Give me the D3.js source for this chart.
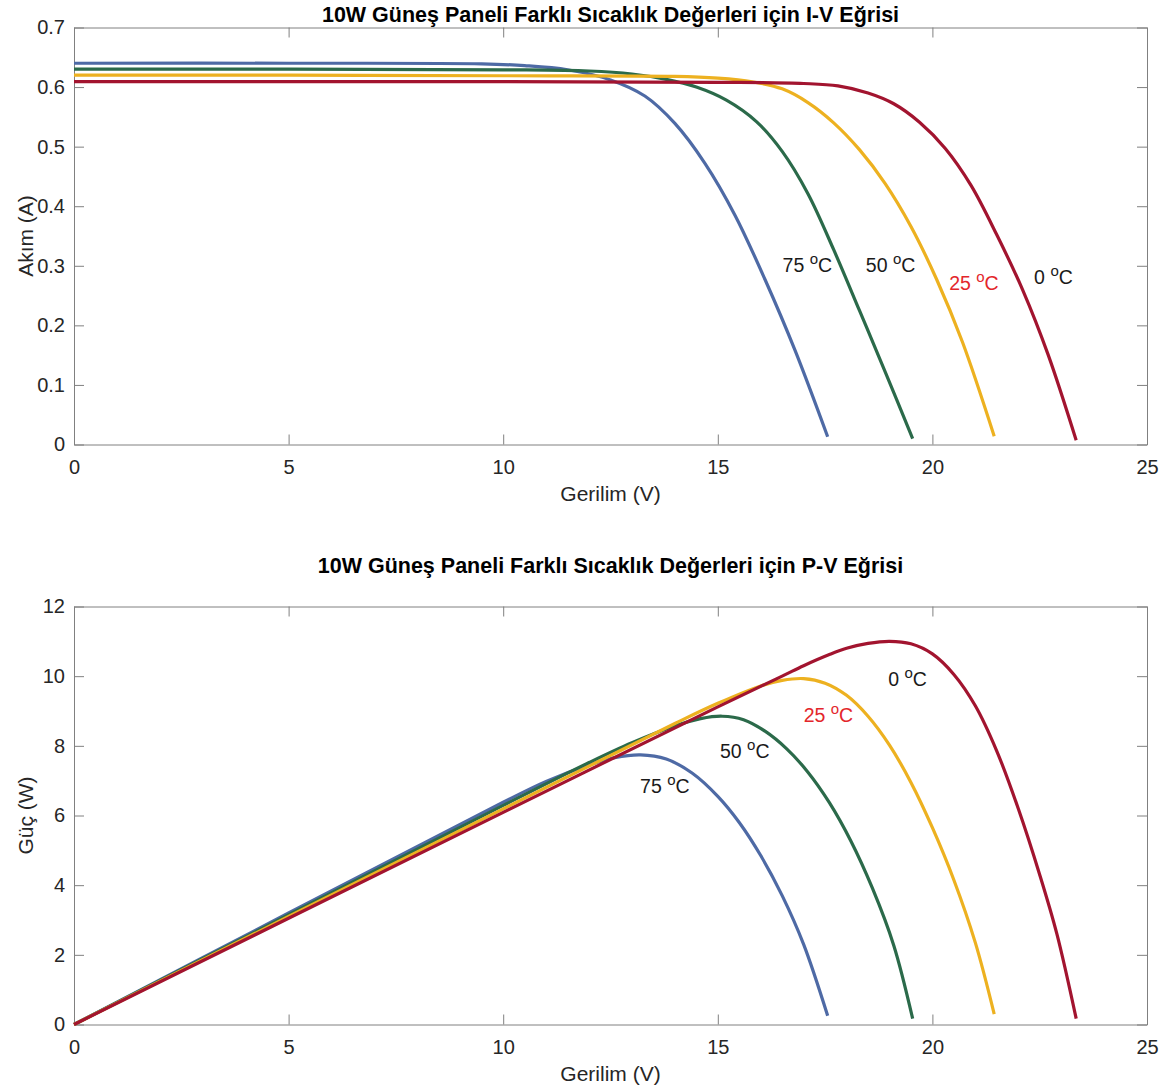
<!DOCTYPE html>
<html>
<head>
<meta charset="utf-8">
<script src="https://cdn.jsdelivr.net/npm/d3@7"></script>
<style>
  body { margin: 0; background: #fff; }
  text { font-family: "Liberation Sans", Arial, sans-serif; }
</style>
</head>
<body>
<svg id="chart"></svg>
<script>
// series order: 75, 50, 25, 0 degC
const temps = ["75", "50", "25", "0"];
const colors = ["#4e6aa5", "#2b6a4a", "#edb120", "#a2142f"];

// I-V curves (voltage V, current A)
const ivV75 = [0, 5, 9.5, 10.5, 11.5, 12.5, 13.3, 14.0, 14.7, 15.4, 16.1, 16.8, 17.56];
const ivI75 = [0.640, 0.640, 0.639, 0.636, 0.629, 0.612, 0.585, 0.539, 0.472, 0.385, 0.277, 0.158, 0.013];
const ivV50 = [0, 5, 10, 12, 13, 13.8, 14.5, 15.2, 15.9, 16.5, 17.1, 17.7, 18.3, 18.9, 19.54];
const ivI50 = [0.630, 0.630, 0.629, 0.627, 0.622, 0.613, 0.600, 0.578, 0.542, 0.492, 0.421, 0.327, 0.225, 0.122, 0.010];
const ivV25 = [0, 5, 10, 14, 15, 15.8, 16.5, 17.1, 17.7, 18.3, 18.9, 19.5, 20.1, 20.7, 21.44];
const ivI25 = [0.620, 0.620, 0.619, 0.618, 0.615, 0.609, 0.597, 0.574, 0.540, 0.495, 0.438, 0.366, 0.277, 0.172, 0.014];
const ivV0 = [0, 5, 10, 15, 17, 17.8, 18.5, 19.1, 19.7, 20.3, 20.9, 21.5, 22.1, 22.7, 23.35];
const ivI0 = [0.609, 0.609, 0.609, 0.608, 0.606, 0.602, 0.590, 0.572, 0.541, 0.497, 0.435, 0.352, 0.260, 0.150, 0.007];

// P-V curves (voltage V, power W)
const pvV75 = [0, 5, 10, 11, 12, 12.6, 13.2, 13.8, 14.4, 15.0, 15.5, 16.0, 16.5, 17.0, 17.56];
const pvP75 = [0, 3.2, 6.38, 6.98, 7.45, 7.66, 7.74, 7.62, 7.22, 6.55, 5.80, 4.85, 3.70, 2.30, 0.25];
const pvV50 = [0, 5, 10, 12, 13, 14, 14.6, 15.1, 15.6, 16.1, 16.6, 17.1, 17.6, 18.1, 18.6, 19.1, 19.54];
const pvP50 = [0, 3.15, 6.29, 7.52, 8.09, 8.57, 8.78, 8.85, 8.75, 8.42, 7.92, 7.245, 6.37, 5.27, 3.92, 2.27, 0.17];
const pvV25 = [0, 5, 10, 14, 15, 16, 16.5, 17.0, 17.5, 18.0, 18.5, 19.0, 19.5, 20.0, 20.5, 21.0, 21.44];
const pvP25 = [0, 3.1, 6.19, 8.64, 9.22, 9.72, 9.88, 9.93, 9.80, 9.45, 8.85, 8.02, 6.95, 5.65, 4.15, 2.35, 0.30];
const pvV0 = [0, 5, 10, 15, 16.5, 17.0, 17.6, 18.0, 18.5, 19.0, 19.5, 20.0, 20.5, 21.0, 21.5, 22.0, 22.5, 22.9, 23.35];
const pvP0 = [0, 3.05, 6.09, 9.12, 10.0, 10.3, 10.62, 10.80, 10.94, 11.0, 10.93, 10.64, 10.05, 9.15, 7.85, 6.2, 4.3, 2.6, 0.17];

// label anchors (voltage, value) for the temperature notes
const ivLabelV = [16.51, 18.45, 20.39, 22.37];
const ivLabelI = [0.290, 0.290, 0.259, 0.270];
const pvLabelV = [13.19, 15.05, 17.0, 18.97];
const pvLabelP = [6.65, 7.66, 8.69, 9.73];

const xTicks = [0, 5, 10, 15, 20, 25];
const ivTicks = [0, 0.1, 0.2, 0.3, 0.4, 0.5, 0.6, 0.7];
const pvTicks = [0, 2, 4, 6, 8, 10, 12];

const zip = (xs, ys) => xs.map((x, i) => [x, ys[i]]);

const svg = d3.select("#chart").attr("width", 1168).attr("height", 1090);

function panel(opts) {
    const left = 74, right = 1147;
    const g = svg.append("g");

    const x = d3.scaleLinear().domain([0, 25]).range([left, right]);
    const y = d3.scaleLinear().domain(opts.yDomain).range([opts.bottom, opts.top]);

    // axes, MATLAB style box with inward ticks
    const axisStyle = sel => {
        sel.select(".domain").attr("stroke", "#808080");
        sel.selectAll(".tick line").attr("stroke", "#808080");
        sel.selectAll(".tick text").attr("fill", "#262626")
            .style("font-size", "20px");
    };
    g.append("g").attr("transform", `translate(0,${opts.bottom})`)
        .call(d3.axisBottom(x).tickValues(xTicks).tickSizeInner(-10).tickSizeOuter(0).tickPadding(15))
        .call(axisStyle);
    g.append("g").attr("transform", `translate(0,${opts.top})`)
        .call(d3.axisTop(x).tickValues(xTicks).tickSizeInner(-10).tickSizeOuter(0).tickFormat(""))
        .call(axisStyle);
    g.append("g").attr("transform", `translate(${left},0)`)
        .call(d3.axisLeft(y).tickValues(opts.yTicks).tickSizeInner(-10).tickSizeOuter(0).tickPadding(9).tickFormat(d => String(d)))
        .call(axisStyle);
    g.append("g").attr("transform", `translate(${right},0)`)
        .call(d3.axisRight(y).tickValues(opts.yTicks).tickSizeInner(-10).tickSizeOuter(0).tickFormat(""))
        .call(axisStyle);

    const line = d3.line()
        .x(d => x(d[0]))
        .y(d => y(d[1]))
        .curve(d3.curveCatmullRom.alpha(0.5));

    g.selectAll("path.curve")
        .data(opts.series)
        .enter().append("path")
        .attr("class", "curve")
        .attr("d", d => line(d))
        .attr("fill", "none")
        .attr("stroke", (d, i) => colors[i])
        .attr("stroke-width", 3.2);

    // temperature notes
    temps.forEach((t, i) => {
        const txt = g.append("text")
            .attr("x", x(opts.labelX[i]))
            .attr("y", y(opts.labelY[i]))
            .attr("fill", t === "25" ? "#e3262b" : "#1a1a1a")
            .style("font-size", "19.5px");
        txt.append("tspan").text(t + " ");
        txt.append("tspan").attr("dy", -8).style("font-size", "15px").text("o");
        txt.append("tspan").attr("dy", 8).text("C");
    });

    // title
    g.append("text")
        .attr("x", (left + right) / 2)
        .attr("y", opts.titleY)
        .attr("text-anchor", "middle")
        .attr("font-weight", "bold")
        .style("font-size", "21.5px")
        .attr("fill", "#000")
        .text(opts.title);

    // x label
    g.append("text")
        .attr("x", (left + right) / 2)
        .attr("y", opts.bottom + 56.5)
        .attr("text-anchor", "middle")
        .attr("fill", "#262626")
        .style("font-size", "21px")
        .text("Gerilim (V)");

    // y label
    g.append("text")
        .attr("transform", `translate(33,${(opts.top + opts.bottom) / 2}) rotate(-90)`)
        .attr("text-anchor", "middle")
        .attr("fill", "#262626")
        .style("font-size", "21px")
        .text(opts.yLabel);
}

panel({
    top: 27.5, bottom: 444.5, titleY: 21.5,
    yDomain: [0, 0.7], yTicks: ivTicks,
    series: [zip(ivV75, ivI75), zip(ivV50, ivI50), zip(ivV25, ivI25), zip(ivV0, ivI0)],
    labelX: ivLabelV, labelY: ivLabelI,
    title: "10W Güneş Paneli Farklı Sıcaklık Değerleri için I-V Eğrisi",
    yLabel: "Akım (A)"
});

panel({
    top: 606.5, bottom: 1024.5, titleY: 573,
    yDomain: [0, 12], yTicks: pvTicks,
    series: [zip(pvV75, pvP75), zip(pvV50, pvP50), zip(pvV25, pvP25), zip(pvV0, pvP0)],
    labelX: pvLabelV, labelY: pvLabelP,
    title: "10W Güneş Paneli Farklı Sıcaklık Değerleri için P-V Eğrisi",
    yLabel: "Güç (W)"
});
</script>
</body>
</html>
